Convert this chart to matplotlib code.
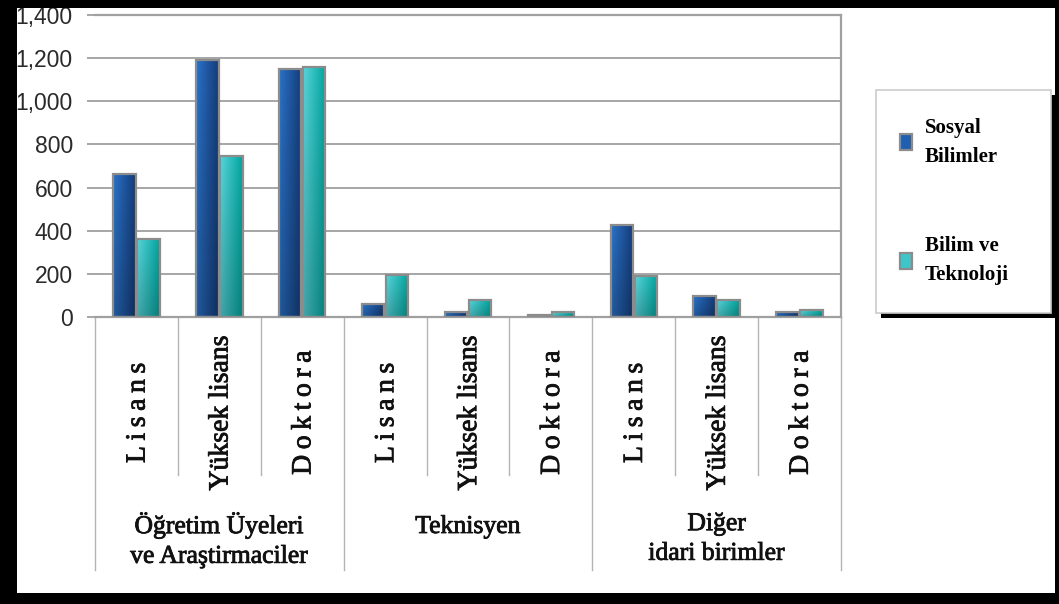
import matplotlib
matplotlib.use("Agg")
import matplotlib.pyplot as plt
import matplotlib.transforms as mtransforms
import matplotlib.patheffects as pe
from matplotlib.patches import Rectangle
from matplotlib.ticker import FuncFormatter
import numpy as np

TS = "\u2009"  # thin space, the source uses letter spacing on two labels
categories = [TS.join("Lisans"), "Yüksek lisans", TS.join("Doktora")] * 3
groups = ["Öğretim Üyeleri\nve Araştirmaciler", "Teknisyen", "Diğer\nidari birimler"]
series = ["Sosyal\nBilimler", "Bilim ve\nTeknoloji"]
sosyal = [663, 1191, 1150, 60, 23, 8, 426, 97, 23]
bilim = [363, 748, 1158, 193, 79, 23, 190, 79, 32]

W, H = 1059, 604
SERIF = ["Liberation Serif", "DejaVu Serif"]
SANS = ["Liberation Sans", "DejaVu Sans"]
HEAVY = [pe.withStroke(linewidth=0.6, foreground="#111111")]


def hex2rgb(h):
    h = h.lstrip("#")
    return np.array([int(h[i:i + 2], 16) / 255 for i in (0, 2, 4)])


def gradient(left, right, bottom_dark=0.78):
    cols = np.linspace(0, 1, 32)[None, :, None]
    rows = np.linspace(bottom_dark, 1.0, 32)[:, None, None]
    img = (1 - cols) * hex2rgb(left) + cols * hex2rgb(right)
    img = img * rows
    return np.clip(img, 0, 1)[::-1]


def gradient_bars(ax, x, h, width, left, right):
    bars = ax.bar(x, h, width, color="none", edgecolor="#8c8c8c", linewidth=1.6, zorder=3)
    img = gradient(left, right)
    for b in bars:
        x0, w_, hh = b.get_x(), b.get_width(), b.get_height()
        im = ax.imshow(img, extent=(x0, x0 + w_, 0, hh), aspect="auto", zorder=2.5,
                       origin="upper", interpolation="bilinear")
        im.set_clip_path(b)
    return bars


fig = plt.figure(figsize=(W / 100, H / 100), dpi=100)
fig.patch.set_facecolor("white")
ax = fig.add_axes([95 / W, 1 - 317 / H, (841 - 95) / W, (317 - 15) / H])

x = np.arange(len(categories))
bw = 0.27
gradient_bars(ax, x - 0.145, sosyal, bw, "#2a72c8", "#143c7a")
gradient_bars(ax, x + 0.145, bilim, bw, "#5ad4da", "#00a59e")

ax.set_xlim(-0.5, len(categories) - 0.5)
ax.set_ylim(0, 1400)
ax.set_yticks(np.arange(0, 1401, 200))
ax.yaxis.set_major_formatter(FuncFormatter(lambda v, _: f"{int(v):,}"))
ax.grid(axis="y", color="#a6a6a6", linewidth=1.4, zorder=1)
ax.set_axisbelow(True)
ax.set_xticks([])
ax.tick_params(axis="y", length=6, width=1.4, color="#a6a6a6", pad=10)
for lab in ax.get_yticklabels():
    lab.set_fontfamily(SANS)
    lab.set_fontsize(16.5)
    lab.set_color("#2a2a2a")
ax.spines["left"].set_visible(False)
for s in ("top", "right", "bottom"):
    ax.spines[s].set_color("#a0a0a0")
    ax.spines[s].set_linewidth(1.6)

# category separators and labels below the axis
trans = mtransforms.blended_transform_factory(ax.transData, ax.transAxes)
px = 1 / (317 - 15)
for i in range(len(categories) + 1):
    bottom = -(570 - 317) * px if i % 3 == 0 else -(475 - 317) * px
    ax.plot([i - 0.5, i - 0.5], [0, bottom], transform=trans, color="#b4b4b4",
            linewidth=1.0, clip_on=False)
for i, c in enumerate(categories):
    ax.text(i + 0.02, -(413 - 317) * px, c, transform=trans, rotation=90, ha="center",
            va="center", fontsize=20, family=SERIF, color="#111111", path_effects=HEAVY)
group_y = [-(540 - 317) * px, -(527 - 317) * px, -(539 - 317) * px]
for g, name in enumerate(groups):
    ax.text(3 * g + 1, group_y[g], name, transform=trans, ha="center", va="center",
            fontsize=18.5, family=SERIF, linespacing=1.45, color="#111111",
            path_effects=HEAVY)

# legend box with shadow
lx0, lx1, ly0, ly1 = 876, 1051, 90, 313
fig.patches.append(Rectangle(((lx0 + 5) / W, 1 - (ly1 + 5) / H), (lx1 - lx0) / W,
                             (ly1 - ly0) / H, transform=fig.transFigure,
                             facecolor="black", edgecolor="none", zorder=5))
fig.patches.append(Rectangle((lx0 / W, 1 - ly1 / H), (lx1 - lx0) / W, (ly1 - ly0) / H,
                             transform=fig.transFigure, facecolor="white",
                             edgecolor="#cccccc", linewidth=1.2, zorder=6))
legend_y = [142, 261]
swatch = ["#1f5fb0", "#3cc6c9"]
for name, yy, col in zip(series, legend_y, swatch):
    fig.patches.append(Rectangle((900 / W, 1 - (yy + 8) / H), 12 / W, 16 / H,
                                 transform=fig.transFigure, facecolor=col,
                                 edgecolor="#8c8c8c", linewidth=1.6, zorder=7))
    fig.text(925 / W, 1 - yy / H, name, ha="left", va="center", fontsize=15,
             fontweight="bold", family=SERIF, linespacing=1.6, zorder=7)

# black frame around the picture
for (bx, by, bw_, bh) in [(0, 0, 17, H), (0, 0, W, 8), (0, 593, W, 11), (1055, 0, 4, H)]:
    fig.patches.append(Rectangle((bx / W, 1 - (by + bh) / H), bw_ / W, bh / H,
                                 transform=fig.transFigure, facecolor="black",
                                 edgecolor="none", zorder=10))

fig.savefig("out.png", dpi=100)
